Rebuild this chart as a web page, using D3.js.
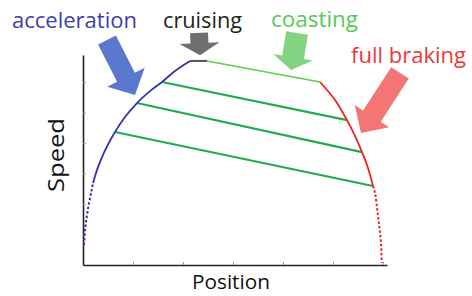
<!DOCTYPE html>
<html><head><meta charset="utf-8">
<script src="https://cdn.jsdelivr.net/npm/d3@7"></script>
<style>body{margin:0;background:#fff}svg{display:block}text{font-family:"Open Sans",sans-serif}</style>
</head><body><svg id="c" width="472" height="296"></svg>
<script>
// ---- data (position, speed) ----
const xTicks = [1,2,3,4,5,6];
const yTicks = [1,2,3,4,5,6];
const accelDotted = [[0.02,0.66],[0.04,1.15],[0.074,1.57],[0.12,2.03],[0.174,2.46],[0.2,2.69]];
const accelSolid = [[0.2,2.69],[0.3,3.21],[0.4,3.61],[0.64,4.36],[0.84,4.85],[1.08,5.31],[1.34,5.70],[1.58,6.0],[1.84,6.36],[2.14,6.69]];
const cruise = [[2.14,6.69],[2.48,6.69]];
const coastTop = [[2.48,6.69],[4.74,6.0]];
const brakeSolid = [[4.74,6.0],[5.04,5.41],[5.28,4.75],[5.44,4.23],[5.58,3.70],[5.70,3.18],[5.80,2.59]];
const brakeDotted = [[5.80,2.59],[5.84,2.36],[5.886,1.80],[5.926,1.25],[5.96,0.72],[5.974,0.07]];
const coastLines = [
  [[1.58,6.0],[5.28,4.75]],
  [[1.08,5.31],[5.58,3.70]],
  [[0.64,4.36],[5.80,2.59]]
];
const labels = ["acceleration","cruising","coasting","full braking"];
const axisLabels = ["Position","Speed"];
// arrows: tail and tip in data units
const arrows = [
  {tail:[0.48,7.38], tip:[1.04,5.57], color:"#5a78cf"},
  {tail:[2.32,7.61], tip:[2.34,6.88], color:"#6f6f6f"},
  {tail:[4.28,7.61], tip:[4.16,6.39], color:"#82d482"},
  {tail:[6.34,6.30], tip:[5.56,4.33], color:"#f37575"}
];

const svg = d3.select("#c");
const x = d3.scaleLinear().domain([0,6.08]).range([83,387]);
const y = d3.scaleLinear().domain([0,6.885]).range([265,55]);
const line = d3.line().x(d=>x(d[0])).y(d=>y(d[1])).curve(d3.curveMonotoneX);
const lineY = d3.line().x(d=>x(d[0])).y(d=>y(d[1])).curve(d3.curveCatmullRom);

// arrows
function arrowPath(a, shaftW, headW, headL){
  const tx=x(a.tail[0]), ty=y(a.tail[1]), px=x(a.tip[0]), py=y(a.tip[1]);
  const dx=px-tx, dy=py-ty, L=Math.hypot(dx,dy), ux=dx/L, uy=dy/L, nx=-uy, ny=ux;
  const bx=px-ux*headL, by=py-uy*headL;
  const pts=[[tx+nx*shaftW/2,ty+ny*shaftW/2],[bx+nx*shaftW/2,by+ny*shaftW/2],[bx+nx*headW/2,by+ny*headW/2],[px,py],
    [bx-nx*headW/2,by-ny*headW/2],[bx-nx*shaftW/2,by-ny*shaftW/2],[tx-nx*shaftW/2,ty-ny*shaftW/2]];
  return "M"+pts.map(p=>p.join(",")).join("L")+"Z";
}
const aSpec=[[20,42,20],[18,40,12],[22,40,13],[21,41,20]];
svg.selectAll("path.arrow").data(arrows).enter().append("path").attr("class","arrow")
  .attr("d",(d,i)=>arrowPath(d,...aSpec[i])).attr("fill",d=>d.color);

// axes
const gx = svg.append("g").attr("transform","translate(0,265)")
  .call(d3.axisBottom(x).tickValues(xTicks).tickSize(-3).tickSizeOuter(0).tickFormat(""));
const gy = svg.append("g").attr("transform","translate(83,0)")
  .call(d3.axisLeft(y).tickValues(yTicks).tickSize(-3).tickSizeOuter(0).tickFormat(""));
[gx,gy].forEach(g=>{g.select(".domain").attr("stroke","#222").attr("stroke-width",1.6);
  g.selectAll(".tick line").attr("stroke","#999").attr("stroke-width",1);});

// coasting lines
svg.selectAll("path.coast").data(coastLines).enter().append("path")
  .attr("d",d3.line().x(d=>x(d[0])).y(d=>y(d[1]))).attr("fill","none").attr("stroke","#1fad4a").attr("stroke-width",2.2);
svg.append("path").attr("d",d3.line().x(d=>x(d[0])).y(d=>y(d[1]))(coastTop)).attr("fill","none").attr("stroke","#5fcf4f").attr("stroke-width",1.6);
svg.append("path").attr("d",d3.line().x(d=>x(d[0])).y(d=>y(d[1]))(cruise)).attr("fill","none").attr("stroke","#555").attr("stroke-width",2);

// acceleration
svg.append("path").attr("d",line(accelSolid)).attr("fill","none").attr("stroke","#3434b0").attr("stroke-width",1.8);
svg.append("path").attr("d",lineY(accelDotted)).attr("fill","none").attr("stroke","#3434b0").attr("stroke-width",2).attr("stroke-dasharray","2.5,2");
// braking
svg.append("path").attr("d",lineY(brakeSolid)).attr("fill","none").attr("stroke","#ee2424").attr("stroke-width",1.8);
svg.append("path").attr("d",lineY(brakeDotted)).attr("fill","none").attr("stroke","#ee2424").attr("stroke-width",2).attr("stroke-dasharray","2.5,2");

// labels
const lab=[{x:12,y:28,w:125,c:"#3d3dae"},{x:163,y:28,w:79,c:"#222"},{x:271,y:27,w:87,c:"#58c858"},{x:351,y:63,w:115,c:"#ef3838"}];
svg.selectAll("text.lab").data(labels).enter().append("text").attr("class","lab")
  .attr("x",(d,i)=>lab[i].x).attr("y",(d,i)=>lab[i].y).attr("fill",(d,i)=>lab[i].c)
  .attr("font-size",21).attr("textLength",(d,i)=>lab[i].w).attr("lengthAdjust","spacingAndGlyphs").text(d=>d);
svg.append("text").attr("x",231).attr("y",289).attr("text-anchor","middle").attr("font-size",20).attr("fill","#111")
  .attr("textLength",78).attr("lengthAdjust","spacingAndGlyphs").text(axisLabels[0]);
svg.append("text").attr("transform","translate(64,155) rotate(-90)").attr("text-anchor","middle").attr("font-size",21).attr("fill","#111")
  .attr("textLength",74).attr("lengthAdjust","spacingAndGlyphs").text(axisLabels[1]);
</script></body></html>
